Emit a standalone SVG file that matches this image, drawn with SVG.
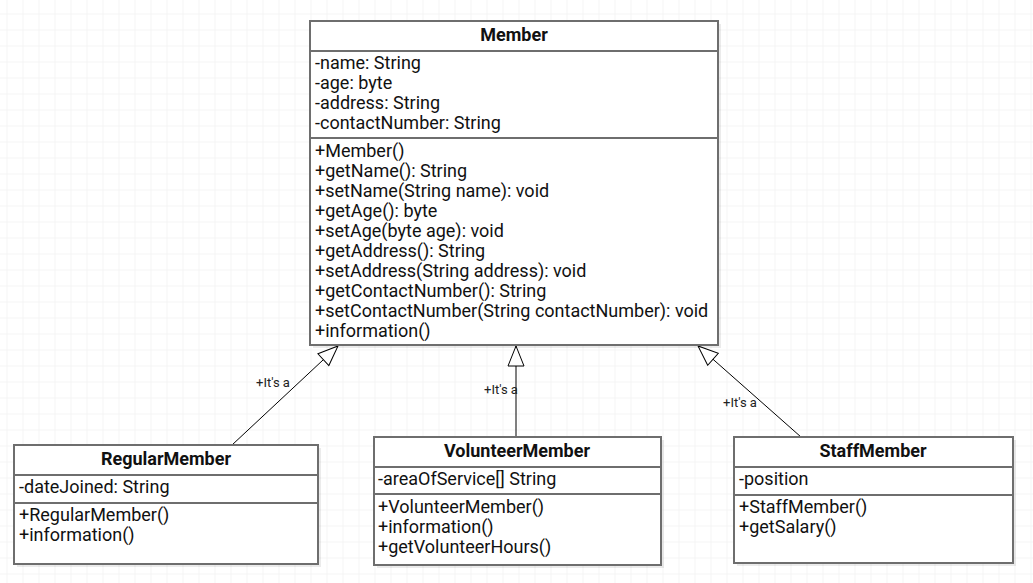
<svg xmlns="http://www.w3.org/2000/svg" width="1033" height="583" viewBox="0 0 1033 583">
<defs>
<pattern id="grid" x="6.5" y="13.5" width="16" height="16" patternUnits="userSpaceOnUse">
<path d="M0,0 H16 M0,0 V16" stroke="#ebebeb" stroke-width="1" fill="none"/>
</pattern>
<marker id="tri" viewBox="0 0 22 18" refX="21" refY="9" markerWidth="22" markerHeight="18" markerUnits="userSpaceOnUse" orient="auto">
<path d="M1,1 L21,9 L1,17 Z" fill="#ffffff" stroke="#000000" stroke-width="1"/>
</marker>
<style>
.box{fill:#ffffff;stroke:#6e6e6e;stroke-width:2}
.sh{fill:#000000;opacity:0.08}
.div{stroke:#6e6e6e;stroke-width:2}
.t{font-family:Roboto,"Liberation Sans",sans-serif;font-size:18px;fill:#111111}
.h{font-family:Roboto,"Liberation Sans",sans-serif;font-size:18px;font-weight:bold;fill:#111111;text-anchor:middle}
.lbl{font-family:Roboto,"Liberation Sans",sans-serif;font-size:13px;fill:#222222}
.edge{stroke:#000000;stroke-width:1;fill:none;marker-end:url(#tri)}
</style>
</defs>
<rect width="1033" height="583" fill="#ffffff"/>
<rect width="1033" height="583" fill="url(#grid)"/>

<g id="connectors">
<line class="edge" x1="232" y1="445" x2="338" y2="346"/>
<line class="edge" x1="516" y1="437" x2="516" y2="346"/>
<line class="edge" x1="801" y1="437" x2="698" y2="346"/>
<text class="lbl" x="256" y="387">+It's a</text>
<text class="lbl" x="484" y="394">+It's a</text>
<text class="lbl" x="723" y="407">+It's a</text>
</g>

<g id="Member">
<rect class="sh" x="313" y="24" width="408" height="324"/>
<rect class="box" x="310" y="21" width="408" height="324"/>
<line class="div" x1="310" y1="51" x2="718" y2="51"/>
<line class="div" x1="310" y1="138" x2="718" y2="138"/>
<text class="h" x="514" y="41">Member</text>
<text class="t" x="315" y="69">-name: String</text>
<text class="t" x="315" y="89">-age: byte</text>
<text class="t" x="315" y="109">-address: String</text>
<text class="t" x="315" y="129">-contactNumber: String</text>
<text class="t" x="315" y="157">+Member()</text>
<text class="t" x="315" y="177">+getName(): String</text>
<text class="t" x="315" y="197">+setName(String name): void</text>
<text class="t" x="315" y="217">+getAge(): byte</text>
<text class="t" x="315" y="237">+setAge(byte age): void</text>
<text class="t" x="315" y="257">+getAddress(): String</text>
<text class="t" x="315" y="277">+setAddress(String address): void</text>
<text class="t" x="315" y="297">+getContactNumber(): String</text>
<text class="t" x="315" y="317">+setContactNumber(String contactNumber): void</text>
<text class="t" x="315" y="337">+information()</text>
</g>

<g id="RegularMember">
<rect class="sh" x="17" y="448" width="304" height="119"/>
<rect class="box" x="14" y="445" width="304" height="119"/>
<line class="div" x1="14" y1="475" x2="318" y2="475"/>
<line class="div" x1="14" y1="503" x2="318" y2="503"/>
<text class="h" x="166" y="465">RegularMember</text>
<text class="t" x="19" y="493">-dateJoined: String</text>
<text class="t" x="19" y="521">+RegularMember()</text>
<text class="t" x="19" y="541">+information()</text>
</g>

<g id="VolunteerMember">
<rect class="sh" x="377" y="440" width="287" height="128"/>
<rect class="box" x="374" y="437" width="287" height="128"/>
<line class="div" x1="374" y1="467" x2="661" y2="467"/>
<line class="div" x1="374" y1="494" x2="661" y2="494"/>
<text class="h" x="517" y="457">VolunteerMember</text>
<text class="t" x="378" y="485">-areaOfService[] String</text>
<text class="t" x="378" y="513">+VolunteerMember()</text>
<text class="t" x="378" y="533">+information()</text>
<text class="t" x="378" y="553">+getVolunteerHours()</text>
</g>

<g id="StaffMember">
<rect class="sh" x="737" y="440" width="279" height="126"/>
<rect class="box" x="734" y="437" width="279" height="126"/>
<line class="div" x1="734" y1="467" x2="1013" y2="467"/>
<line class="div" x1="734" y1="495" x2="1013" y2="495"/>
<text class="h" x="873" y="457">StaffMember</text>
<text class="t" x="739" y="485">-position</text>
<text class="t" x="739" y="513">+StaffMember()</text>
<text class="t" x="739" y="533">+getSalary()</text>
</g>
</svg>
